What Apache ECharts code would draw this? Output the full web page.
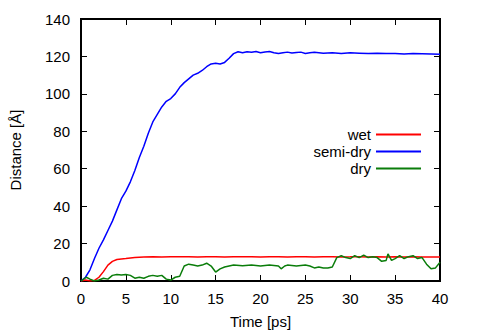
<!DOCTYPE html>
<html><head><meta charset="utf-8">
<script src="https://cdn.jsdelivr.net/npm/echarts@6/dist/echarts.min.js"></script>
<style>html,body{margin:0;padding:0;background:#fff}#c{width:479px;height:334px}</style>
</head><body><div id="c"></div>
<script>
const seriesNames = ['wet', 'semi-dry', 'dry'];
const xTitle = 'Time [ps]';
const yTitle = 'Distance [Å]';
const wet = [[0,0],[0.5,0.5],[1,0],[1.5,0.3],[2,2],[2.5,5],[3,8.5],[3.5,10.5],[4,11.5],[4.5,11.8],[5,12],[5.5,12.3],[6,12.5],[7,12.8],[8,13],[9,12.8],[10,13],[11,12.9],[12,13],[13,12.8],[14,13],[15,12.9],[16,12.8],[17,13],[18,12.9],[19,13],[20,12.8],[21,12.9],[22,13],[23,12.8],[24,12.9],[25,13],[26,12.8],[27,12.9],[28,13],[29,12.8],[30,12.9],[31,13],[32,12.8],[33,12.9],[34,12.8],[35,12.9],[36,12.8],[37,12.9],[38,12.8],[39,12.8],[40,12.8]];
const semiDry = [[0,0],[0.5,2],[1,6],[1.5,12],[2,17.5],[2.5,22],[3,27],[3.5,32],[4,38],[4.5,44],[5,48],[5.5,53],[6,59],[6.5,66],[7,72],[7.5,79],[8,85],[8.5,89],[9,93],[9.5,96],[10,97.5],[10.5,100],[11,103.5],[11.5,106],[12,108],[12.5,110],[13,111],[13.5,112.5],[14,114.5],[14.5,116],[15,116.3],[15.5,116],[16,116.8],[16.5,119],[17,121.5],[17.5,122.5],[18,122],[18.5,122.5],[19,122.2],[19.5,122.6],[20,122],[20.5,122.4],[21,122.6],[21.5,122],[22,121.6],[22.5,122],[23,122.3],[23.5,121.8],[24,122.1],[24.5,122.3],[25,121.6],[25.5,122],[26,122.2],[27,121.7],[28,122],[29,121.6],[30,121.9],[31,121.7],[32,121.5],[33,121.7],[34,121.5],[35,121.6],[36,121.3],[37,121.5],[38,121.4],[39,121.3],[40,121.2]];
const dry = [[0,0],[0.3,1],[0.6,2],[1,1],[1.5,0],[2,0.5],[2.5,1.5],[3,1],[3.5,3],[4,3.5],[4.5,3.2],[5,3.5],[5.5,3],[6,1.5],[6.5,2],[7,1.5],[7.5,2.5],[8,3],[8.5,2.5],[9,3],[9.5,1],[10,0.5],[10.5,2],[11,2.5],[11.5,8],[12,9],[12.5,8.5],[13,8],[13.5,8.5],[14,9.5],[14.5,8],[15,4.8],[15.5,6.5],[16,7.5],[16.5,8],[17,8.5],[18,8.2],[19,8.5],[20,8],[21,8.5],[22,8],[22.3,6.5],[22.7,8],[23,8.5],[24,8],[25,8.5],[25.5,8],[26,7],[26.5,7.5],[27,7],[27.5,7],[28,7.5],[28.5,12.5],[29,13.5],[29.5,12.5],[30,12],[30.5,13.5],[31,12.5],[31.5,13.8],[32,12.5],[32.5,13],[33,12.5],[33.5,10.5],[34,11],[34.2,14.5],[34.6,11],[35,12],[35.5,13.5],[36,12],[36.5,13],[37,13.5],[37.5,12],[38,12.5],[38.5,9],[39,6.5],[39.5,7],[40,10]];

const font = 'Liberation Sans, Arial, sans-serif';
const chart = echarts.init(document.getElementById('c'), null, {renderer: 'svg'});
const axLine = () => ({show: true, onZero: false, lineStyle: {color: '#000', width: 2}});
const tick = () => ({show: true, inside: true, length: 6, lineStyle: {color: '#000'}});
const lbl = () => ({fontFamily: font, fontSize: 15, color: '#000'});
const legendItem = (name, top) => ({
  data: [name], right: 58, top: top, align: 'right',
  icon: 'rect', itemWidth: 45, itemHeight: 2, padding: 0,
  textStyle: {fontFamily: font, fontSize: 15, color: '#000'},
  selectedMode: false
});
chart.setOption({
  animation: false,
  grid: {left: 81, right: 39, top: 19, bottom: 53, show: true, borderColor: '#000', borderWidth: 2, backgroundColor: 'transparent'},
  legend: [legendItem(seriesNames[0], 127), legendItem(seriesNames[1], 144), legendItem(seriesNames[2], 161)],
  xAxis: [
    {type: 'value', min: 0, max: 40, interval: 5, name: xTitle, nameLocation: 'middle', nameGap: 33,
     nameTextStyle: lbl(), axisLine: axLine(), axisTick: tick(), splitLine: {show: false},
     axisLabel: Object.assign(lbl(), {margin: 10})},
    {type: 'value', position: 'top', min: 0, max: 40, interval: 5,
     axisLine: axLine(), axisTick: tick(), splitLine: {show: false}, axisLabel: {show: false}}
  ],
  yAxis: [
    {type: 'value', min: 0, max: 140, interval: 20, name: yTitle, nameLocation: 'middle', nameGap: 58, nameRotate: 90,
     nameTextStyle: lbl(), axisLine: axLine(), axisTick: tick(), splitLine: {show: false},
     axisLabel: Object.assign(lbl(), {margin: 11})},
    {type: 'value', position: 'right', min: 0, max: 140, interval: 20,
     axisLine: axLine(), axisTick: tick(), splitLine: {show: false}, axisLabel: {show: false}}
  ],
  series: [
    {name: seriesNames[0], type: 'line', data: wet, showSymbol: false, color: '#ff0000', lineStyle: {width: 1.5}},
    {name: seriesNames[1], type: 'line', data: semiDry, showSymbol: false, color: '#0000ff', lineStyle: {width: 1.5}},
    {name: seriesNames[2], type: 'line', data: dry, showSymbol: false, color: '#0a7d0a', lineStyle: {width: 1.5}}
  ]
});
</script></body></html>
